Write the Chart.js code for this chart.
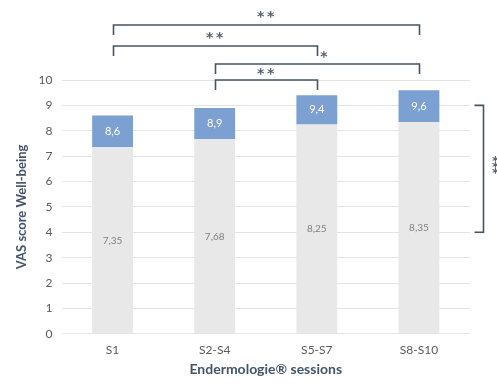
<!DOCTYPE html>
<html>
<head>
<meta charset="utf-8">
<script src="https://cdn.jsdelivr.net/npm/chart.js@4"></script>
<style>
  html, body { margin: 0; padding: 0; background: #ffffff; }
  #wrap { width: 497px; height: 385px; position: relative; }
</style>
</head>
<body>
<div id="wrap"><canvas id="c" width="497" height="385"></canvas></div>
<script>
// Well-being VAS score per block of sessions
const categories = ['S1', 'S2-S4', 'S5-S7', 'S8-S10'];
const baseScores = [7.35, 7.68, 8.25, 8.35];   // grey segment
const topScores  = [8.6, 8.9, 9.4, 9.6];       // blue segment upper end
const yTicks = [0, 1, 2, 3, 4, 5, 6, 7, 8, 9, 10];

// significance brackets between sessions: [from index, to index, label]
const comparisons = [
  [0, 3, '**'],
  [0, 2, '**'],
  [1, 3, '*'],
  [1, 2, '**']
];
// vertical bracket on the right: [from value, to value, label]
const rangeBracket = [4, 9, '***'];

const FONT = 'Lato, "Open Sans", sans-serif';
const STAR_FONT = 'bold 14px "DejaVu Sans", sans-serif';
const INK = '#44546a';

const fmt = v => String(v).replace('.', ',');

const labelsPlugin = {
  id: 'segmentLabels',
  afterDatasetsDraw(chart) {
    const ctx = chart.ctx;
    const y = chart.scales.y;
    ctx.save();
    ctx.textAlign = 'center';
    ctx.textBaseline = 'middle';
    chart.getDatasetMeta(0).data.forEach((bar, i) => {
      ctx.fillStyle = '#808080';
      ctx.font = '10px ' + FONT;
      ctx.fillText(fmt(baseScores[i]), bar.x, y.getPixelForValue(baseScores[i] / 2));
    });
    chart.getDatasetMeta(1).data.forEach((bar, i) => {
      ctx.fillStyle = '#ffffff';
      ctx.font = '11px ' + FONT;
      ctx.fillText(fmt(topScores[i]), bar.x, y.getPixelForValue((baseScores[i] + topScores[i]) / 2));
    });
    ctx.restore();
  }
};

// draws a row of asterisks with even spacing, centred on (cx, cy)
function stars(ctx, text, cx, cy, gap) {
  const n = text.length;
  for (let i = 0; i < n; i++) {
    ctx.fillText('*', cx + (i - (n - 1) / 2) * gap, cy);
  }
}

// draws a column of asterisks with even spacing, centred on (cx, cy)
function starColumn(ctx, text, cx, cy, gap) {
  const n = text.length;
  for (let i = 0; i < n; i++) {
    ctx.fillText('*', cx, cy + (i - (n - 1) / 2) * gap);
  }
}

const bracketPlugin = {
  id: 'brackets',
  afterDraw(chart) {
    const ctx = chart.ctx;
    const x = chart.scales.x;
    const y = chart.scales.y;
    const area = chart.chartArea;
    ctx.save();
    ctx.strokeStyle = INK;
    ctx.lineWidth = 1.6;
    // horizontal brackets stacked above the plot, measured up from the plot top
    const rise = [55, 34, 16, 0];
    const tick = 10;
    comparisons.forEach((c, k) => {
      const x1 = Math.round(x.getPixelForValue(c[0])) + 0.5;
      const x2 = Math.round(x.getPixelForValue(c[1])) + 0.5;
      const ly = area.top - rise[k];
      ctx.beginPath();
      ctx.moveTo(x1, ly + tick);
      ctx.lineTo(x1, ly);
      ctx.lineTo(x2, ly);
      ctx.lineTo(x2, ly + tick);
      ctx.stroke();
    });
    ctx.fillStyle = '#56606e';
    ctx.font = STAR_FONT;
    ctx.textAlign = 'center';
    ctx.textBaseline = 'middle';
    const mid = (a, b) => (x.getPixelForValue(a) + x.getPixelForValue(b)) / 2;
    stars(ctx, comparisons[0][2], mid(0, 3), area.top - 63, 10);
    stars(ctx, comparisons[1][2], mid(0, 2), area.top - 42, 10);
    stars(ctx, comparisons[2][2], x.getPixelForValue(2) + 7, area.top - 23, 10);
    stars(ctx, comparisons[3][2], mid(1, 2), area.top - 6, 10);

    // vertical bracket on the right
    const vx = area.right + 13.5;
    const y1 = y.getPixelForValue(rangeBracket[1]);
    const y2 = y.getPixelForValue(rangeBracket[0]);
    ctx.beginPath();
    ctx.moveTo(vx - 9, y1);
    ctx.lineTo(vx, y1);
    ctx.lineTo(vx, y2);
    ctx.lineTo(vx - 9, y2);
    ctx.stroke();
    ctx.font = 'bold 13px "DejaVu Sans", sans-serif';
    starColumn(ctx, rangeBracket[2], vx + 12, (y1 + y2) / 2 - 1, 6);
    ctx.restore();
  }
};

new Chart(document.getElementById('c'), {
  type: 'bar',
  data: {
    labels: categories,
    datasets: [
      {
        data: baseScores,
        backgroundColor: '#e8e8e8',
        borderWidth: 0,
        barPercentage: 0.4,
        categoryPercentage: 1
      },
      {
        data: baseScores.map((b, i) => [b, topScores[i]]),
        backgroundColor: '#7da0d2',
        borderWidth: 0,
        barPercentage: 0.4,
        categoryPercentage: 1
      }
    ]
  },
  options: {
    responsive: false,
    animation: false,
    devicePixelRatio: 1,
    layout: { padding: { top: 80, right: 27, left: 14, bottom: 7 } },
    plugins: {
      legend: { display: false },
      tooltip: { enabled: false }
    },
    scales: {
      x: {
        stacked: true,
        grid: { display: false },
        border: { display: false },
        ticks: { color: '#595959', font: { family: FONT, size: 12 }, padding: 1 },
        title: {
          display: true,
          text: 'Endermologie® sessions',
          color: INK,
          font: { family: FONT, size: 14, weight: 'bold' },
          padding: { top: 3, bottom: 0 }
        }
      },
      y: {
        stacked: false,
        min: 0,
        max: 10,
        afterBuildTicks: axis => { axis.ticks = yTicks.map(v => ({ value: v })); },
        grid: { color: '#e4e4e4', drawTicks: false, lineWidth: 1 },
        border: { display: false },
        ticks: { color: '#595959', font: { family: FONT, size: 12 }, padding: 9 },
        title: {
          display: true,
          text: 'VAS score Well-being',
          color: INK,
          font: { family: FONT, size: 13, weight: 'bold' },
          padding: { top: 0, bottom: 0 }
        }
      }
    }
  },
  plugins: [labelsPlugin, bracketPlugin]
});
</script>
</body>
</html>
